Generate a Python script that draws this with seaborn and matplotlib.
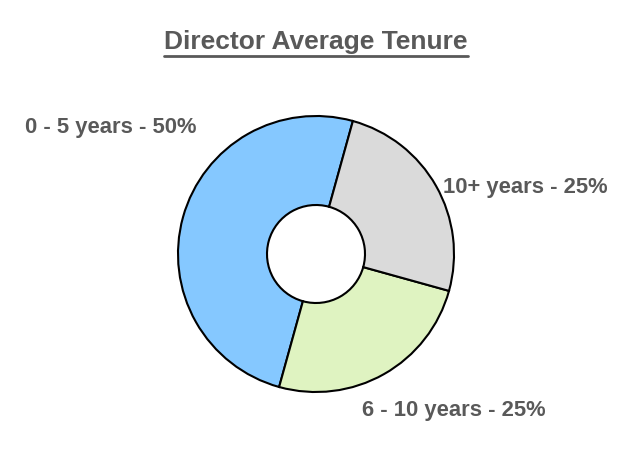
import matplotlib
matplotlib.use("Agg")
import matplotlib.pyplot as plt
import seaborn as sns
from matplotlib.lines import Line2D

categories = ['0 - 5 years', '6 - 10 years', '10+ years']
shares = [50, 25, 25]
colors = ['#85C8FF', '#DFF3C1', '#DADADA']

sns.set_theme(style='white')
plt.rcParams['font.family'] = ['Liberation Sans', 'DejaVu Sans']

W, H = 632, 452
fig = plt.figure(figsize=(W / 100, H / 100), dpi=100)
ax = fig.add_axes([0, 0, 1, 1])
ax.set_xlim(0, W)
ax.set_ylim(0, H)
ax.set_aspect('equal')
ax.axis('off')

# donut, center and radius in pixel units
cx, cy, r = 316, H - 255, 138
hole = 49
ax.pie(shares, colors=colors, startangle=74.5, counterclock=True,
       center=(cx, cy), radius=r,
       wedgeprops=dict(width=r - hole, edgecolor='black', linewidth=1.5))
ax.set_xlim(0, W)
ax.set_ylim(0, H)

grey = '#595959'
label_pos = {'0 - 5 years': (25, 128), '6 - 10 years': (362, 411), '10+ years': (443, 188)}
for cat, val in zip(categories, shares):
    x, y = label_pos[cat]
    ax.text(x, H - y, f'{cat} - {val}%', fontsize=15.8, fontweight='bold',
            color=grey, ha='left', va='center')

title = fig.text(0.5, 1 - 42 / H, 'Director Average Tenure', fontsize=19,
                 fontweight='bold', color=grey, ha='center', va='center')
fig.canvas.draw()
bb = title.get_window_extent()
yline = (H - 57) / H
fig.add_artist(Line2D([bb.x0 / W, bb.x1 / W], [yline, yline],
                      transform=fig.transFigure, color=grey, linewidth=2))

fig.savefig('out.png', dpi=100)
